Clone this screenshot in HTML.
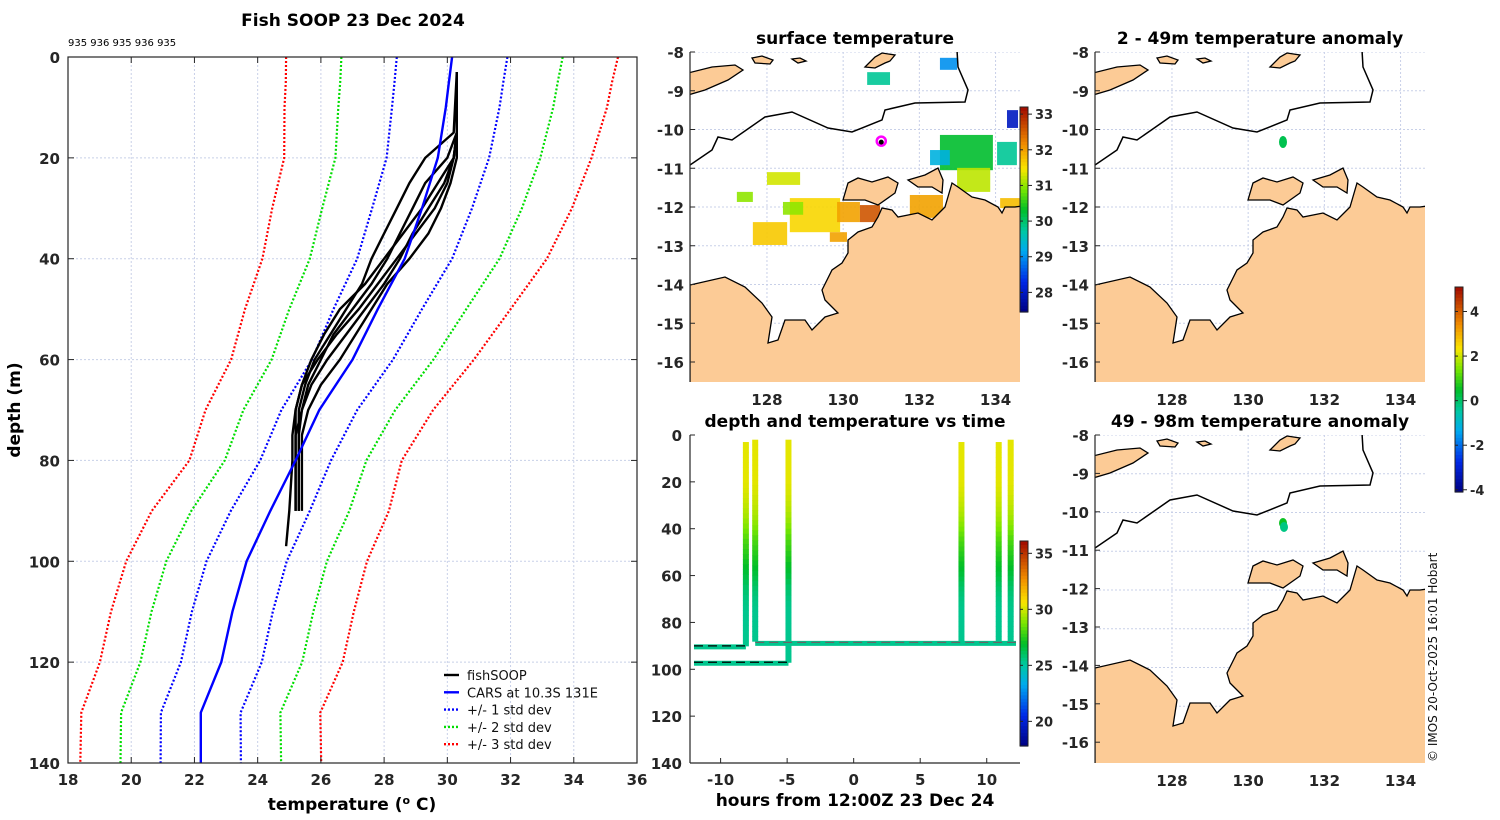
<!DOCTYPE html>
<html><head><meta charset="utf-8">
<style>
html,body{margin:0;padding:0;background:#fff;}
svg{display:block;}
text{font-family:"DejaVu Sans","Liberation Sans",sans-serif;fill:#262626;}
.tk{font-size:15px;font-weight:bold;}
.ttl{font-size:17px;font-weight:bold;fill:#000;}
</style></head>
<body>
<svg id="fig" width="1500" height="820" viewBox="0 0 1500 820" xmlns="http://www.w3.org/2000/svg">
<defs>
<clipPath id="cpP"><rect x="68" y="57" width="569" height="706"/></clipPath>
<clipPath id="cpM1"><rect x="690" y="52" width="330" height="330"/></clipPath>
<clipPath id="cpM2"><rect x="1095" y="52" width="330" height="330"/></clipPath>
<clipPath id="cpM3"><rect x="1095" y="435" width="330" height="328"/></clipPath>
<clipPath id="cpT"><rect x="690" y="435" width="330" height="328"/></clipPath>
</defs>
<g id="root"></g>
</svg>
<script>
// ---------- profile data ----------
const carsDepth=[0,5,10,20,30,40,50,60,70,80,90,100,110,120,130,140];
const carsMean=[30.15,30.05,29.95,29.7,29.2,28.65,27.8,27.0,25.95,25.2,24.4,23.65,23.2,22.85,22.2,22.2];
const carsStd=[1.75,1.72,1.7,1.62,1.58,1.5,1.4,1.28,1.2,1.12,1.25,1.27,1.28,1.28,1.26,1.27];
const fsDepth=[3,15,20,25,30,35,40,45,50,55,60,65,70,75,80,90];
const fs1=[30.3,30.3,30.0,29.3,28.9,28.5,28.1,27.6,27.0,26.4,26.0,25.6,25.4,25.3,25.3,25.3];
const fs2=[30.3,30.3,30.3,30.1,29.8,29.4,28.8,28.1,27.6,27.1,26.6,26.0,25.6,25.4,25.4,25.4];
const fs3=[30.3,30.2,29.3,28.8,28.4,28.0,27.6,27.3,26.8,26.3,25.8,25.5,25.3,25.3,25.3,25.3];
const fs4=[30.3,30.3,30.2,29.9,29.4,28.9,28.5,28.0,27.4,26.8,26.2,25.7,25.4,25.2,25.2,25.2];
const fs5=[30.3,30.3,30.2,29.7,29.2,28.6,28.0,27.4,26.6,26.1,25.7,25.4,25.2,25.2,25.2,25.2];
const fs6Depth=[3,15,20,25,30,35,40,45,50,55,60,65,70,75,80,90,97];
const fs6=[30.3,30.3,30.2,30.0,29.6,29.0,28.4,27.8,27.2,26.5,25.9,25.4,25.2,25.1,25.1,25.0,24.9];
const tempTicks=[18,20,22,24,26,28,30,32,34,36];
const depthTicks=[0,20,40,60,80,100,120,140];
// ---------- SST patches ----------
const sstLon0=[127.63,128.6,129.84,130.44,129.65,128.42,128.0,127.21,131.75,132.54,132.99,134.04,134.3,130.63,132.54,134.12,132.28];
const sstLon1=[128.53,129.92,130.44,130.97,130.1,128.95,128.87,127.63,132.62,133.93,133.86,134.56,134.59,131.23,132.99,134.64,132.8];
const sstLat0=[-12.39,-11.77,-11.87,-11.95,-12.65,-11.87,-11.1,-11.61,-11.69,-10.14,-10.99,-10.32,-9.5,-8.52,-8.15,-11.77,-10.53];
const sstLat1=[-12.98,-12.65,-12.39,-12.39,-12.9,-12.2,-11.43,-11.87,-12.28,-11.05,-11.61,-10.92,-9.96,-8.85,-8.46,-12.03,-10.92];
const sstVal=[31.7,31.6,32.0,32.6,32.0,31.0,31.3,31.0,32.0,30.3,31.2,29.8,28.0,29.8,29.0,31.8,29.3];
const sstTicks=[28,29,30,31,32,33];
const anomTicks=[-4,-2,0,2,4];
const lonTicks=[128,130,132,134];
const latTicks=[-8,-9,-10,-11,-12,-13,-14,-15,-16];
// ---------- time series ----------
const castTime=[-8.1,-7.4,-4.9,8.1,10.9,11.8];
const castTop=[3,2,2,3,3,2];
const castBottom=[90,88,97,88,88,88];
const towStart=[-12.0,-12.0,-7.4];
const towEnd=[-8.1,-4.9,12.2];
const towDepth=[90,97,88.5];
const hourTicks=[-10,-5,0,5,10];
const tdDepthTicks=[0,20,40,60,80,100,120,140];
const tsTicks=[20,25,30,35];

const NS="http://www.w3.org/2000/svg";
const root=document.getElementById('root');
function E(tag,attrs,parent,txt){const e=document.createElementNS(NS,tag);for(const k in attrs)e.setAttribute(k,attrs[k]);if(txt!==undefined)e.textContent=txt;(parent||root).appendChild(e);return e;}

const cstops=[[0,[0,0,128]],[0.15,[0,40,230]],[0.3,[0,170,240]],[0.4,[0,200,160]],[0.5,[0,190,40]],[0.6,[120,230,0]],[0.7,[250,230,0]],[0.82,[240,140,0]],[1,[160,10,0]]];
function cmap(f){f=Math.max(0,Math.min(1,f));for(let i=1;i<cstops.length;i++){if(f<=cstops[i][0]){const a=cstops[i-1],b=cstops[i];const t=(f-a[0])/(b[0]-a[0]);const c=a[1].map((v,j)=>Math.round(v+(b[1][j]-v)*t));return `rgb(${c})`;}}return 'rgb(160,10,0)';}
function colorbar(x,y,w,h,vmin,vmax,ticks,name){
  const g=E('g',{});
  
  
  const n=60;
  for(let i=0;i<n;i++){E('rect',{x:x,y:y+h-(i+1)*h/n,width:w,height:h/n+0.6,fill:cmap((i+0.5)/n)},g);}
  E('rect',{x:x,y:y,width:w,height:h,fill:'none',stroke:'#222','stroke-width':1},g);
  ticks.forEach(t=>{const ty=y+h-(t-vmin)/(vmax-vmin)*h;E('line',{x1:x+w,x2:x+w+4,y1:ty,y2:ty,stroke:'#222'},g);E('line',{x1:x,x2:x+3,y1:ty,y2:ty,stroke:'#222'},g);const tx=E('text',{x:x+w+7,y:ty+5,class:'tk'},g,String(t));tx.setAttribute('style','font-size:13px');});
}

// ================= PROFILE PLOT =================
const PX0=68,PX1=637,PY0=57,PY1=763;
const tx=t=>PX0+(t-18)/(36-18)*(PX1-PX0);
const dy=d=>PY0+d/140*(PY1-PY0);
E('text',{x:353,y:26,class:'ttl','text-anchor':'middle',},root,'Fish SOOP 23 Dec 2024');
const ids=E('text',{x:68,y:46,},root,'935 936 935 936 935');ids.setAttribute('style','font-size:10px;fill:#000');
const pg=E('g',{});
tempTicks.forEach(t=>{if(t>18&&t<36){E('line',{x1:tx(t),x2:tx(t),y1:PY0,y2:PY1,stroke:'#c8d0e8','stroke-width':1,'stroke-dasharray':'2,2'},pg);}});
depthTicks.forEach(d=>{if(d>0&&d<140)E('line',{x1:PX0,x2:PX1,y1:dy(d),y2:dy(d),stroke:'#c8d0e8','stroke-width':1,'stroke-dasharray':'2,2'},pg);});
function pline(ts,ds,attrs,name){const pts=ts.map((t,i)=>tx(t).toFixed(1)+','+dy(ds[i]).toFixed(1)).join(' ');const p=E('polyline',Object.assign({points:pts,fill:'none','clip-path':'url(#cpP)'},attrs),pg);return p;}
const stdCols=['#0000ff','#00dd00','#ff0000'];
[3,2,1].forEach(k=>{
  pline(carsMean.map((m,i)=>m-k*carsStd[i]),carsDepth,{stroke:stdCols[k-1],'stroke-width':2.2,'stroke-dasharray':'2,2'},'std-'+k+'-left');
  pline(carsMean.map((m,i)=>m+k*carsStd[i]),carsDepth,{stroke:stdCols[k-1],'stroke-width':2.2,'stroke-dasharray':'2,2'},'std-'+k+'-right');
});
[fs1,fs2,fs3,fs4,fs5].forEach((s,i)=>pline(s,fsDepth,{stroke:'#000','stroke-width':2.4},'fishsoop-profile-'+(i+1)));
pline(fs6,fs6Depth,{stroke:'#000','stroke-width':2.4},'fishsoop-profile-6');
pline(carsMean,carsDepth,{stroke:'#0000ff','stroke-width':2.4},'cars-mean');
E('rect',{x:PX0,y:PY0,width:PX1-PX0,height:PY1-PY0,fill:'none',stroke:'#262626','stroke-width':1.2},pg);
tempTicks.forEach(t=>{E('line',{x1:tx(t),x2:tx(t),y1:PY1,y2:PY1-6,stroke:'#262626'},pg);E('line',{x1:tx(t),x2:tx(t),y1:PY0,y2:PY0+6,stroke:'#262626'},pg);E('text',{x:tx(t),y:PY1+22,class:'tk','text-anchor':'middle'},pg,String(t));});
depthTicks.forEach(d=>{E('line',{x1:PX0,x2:PX0+6,y1:dy(d),y2:dy(d),stroke:'#262626'},pg);E('line',{x1:PX1,x2:PX1-6,y1:dy(d),y2:dy(d),stroke:'#262626'},pg);E('text',{x:PX0-8,y:dy(d)+6,class:'tk','text-anchor':'end'},pg,String(d));});
const xl=E('text',{x:352,y:810,class:'ttl','text-anchor':'middle',},root);
xl.innerHTML='temperature (<tspan dy="-6" font-size="11">o</tspan><tspan dy="6"> C)</tspan>';
E('text',{x:20,y:410,class:'ttl','text-anchor':'middle',transform:'rotate(-90 20 410)',},root,'depth (m)');
const lg=E('g',{});
const legT=['fishSOOP','CARS at 10.3S 131E','+/- 1 std dev','+/- 2 std dev','+/- 3 std dev'];
const legC=['#000','#0000ff','#0000ff','#00dd00','#ff0000'];
legT.forEach((t,i)=>{const y=675+i*17.3;const e=E('g',{},lg);
 E('line',Object.assign({x1:444,x2:459,y1:y,y2:y,stroke:legC[i],'stroke-width':2.4},i>1?{'stroke-dasharray':'2,2'}:{}),e);
 const tt=E('text',{x:467,y:y+5},e,t);tt.setAttribute('style','font-size:13px;fill:#111');});

// ================= MAPS =================
const land=[[0,233],[35,225],[55,235],[72,251],[82,265],[78,291],[88,288],[95,268],[115,268],[122,278],[135,265],[148,261],[135,248],[132,238],[142,218],[152,211],[158,201],[158,188],[168,180],[182,175],[188,165],[192,156],[202,158],[208,165],[228,161],[242,168],[250,160],[255,155],[262,131],[268,135],[282,145],[295,148],[308,155],[312,161],[315,155],[325,155],[332,154],[332,332],[0,332]];
const isl1=[[153,148],[158,131],[168,126],[182,130],[198,125],[208,131],[205,141],[188,153],[175,148]];
const isl2=[[218,128],[235,123],[248,116],[253,128],[252,141],[242,135],[228,135]];
const timor=[[-2,21],[22,15],[45,13],[53,18],[38,28],[15,38],[-2,43]];
const isl3=[[62,6],[72,4],[83,8],[80,12],[65,11]];
const isl4=[[102,7],[110,6],[116,9],[108,11]];
const isl5=[[175,15],[185,5],[192,1],[205,3],[200,9],[195,11],[185,16]];
const iso=[[0,113],[22,98],[28,85],[42,88],[75,65],[102,60],[138,76],[162,80],[192,68],[195,58],[225,51],[275,50],[278,38],[268,15],[267,-2]];
function pstr(a,ox,oy){return a.map(p=>(p[0]+ox)+','+(p[1]+oy)).join(' ');}
function drawMap(ox,oy,clip,name){
  const g=E('g',{'clip-path':'url(#'+clip+')'});
  
  
  lonTicks.forEach(l=>{const x=ox+(l-125.98)*38.1;E('line',{x1:x,x2:x,y1:oy,y2:oy+330,stroke:'#c8d0e8','stroke-dasharray':'2,2'},g);});
  latTicks.forEach(l=>{const y=oy+(-8-l)*38.75;E('line',{x1:ox,x2:ox+330,y1:y,y2:y,stroke:'#c8d0e8','stroke-dasharray':'2,2'},g);});
  return g;
}
function drawLand(g,ox,oy){
  [land,isl1,isl2,timor,isl3,isl4,isl5].forEach(a=>{const p=E('polygon',{points:pstr(a,ox,oy),fill:'#fccb96',stroke:'#000','stroke-width':1.3},g);});
  E('polyline',{points:pstr(iso,ox,oy),fill:'none',stroke:'#000','stroke-width':1.5},g);
}
function mapAxes(ox,oy,h,showLon){
  const g=E('g',{});
  E('line',{x1:ox,x2:ox,y1:oy,y2:oy+h,stroke:'#262626','stroke-width':1.2},g);
  latTicks.forEach(l=>{const y=oy+(-8-l)*38.75*(h/330);E('line',{x1:ox,x2:ox+5,y1:y,y2:y,stroke:'#262626'},g);E('text',{x:ox-6,y:y+6,class:'tk','text-anchor':'end'},g,String(l));});
  if(showLon){lonTicks.forEach(l=>{const x=ox+(l-125.98)*38.1;E('text',{x:x,y:oy+h+23,class:'tk','text-anchor':'middle'},g,String(l));});}
}
const m1=drawMap(690,52,'cpM1','surface-temperature-map');
const sx=l=>690+(l-125.98)*38.1, sy=l=>52+(-8-l)*38.75;
sstVal.forEach((v,i)=>{const r=E('rect',{x:sx(sstLon0[i]),y:sy(sstLat0[i]),width:sx(sstLon1[i])-sx(sstLon0[i]),height:sy(sstLat1[i])-sy(sstLat0[i]),fill:cmap((v-27.45)/(33.2-27.45)),opacity:0.9},m1);});
drawLand(m1,690,52);
E('circle',{cx:sx(131),cy:sy(-10.3),r:4.5,fill:'none',stroke:'#ff00ff','stroke-width':2.5,},m1);
E('circle',{cx:sx(131),cy:sy(-10.3)+1,r:2.5,fill:'#000'},m1);
mapAxes(690,52,330,true);
E('text',{x:855,y:44,class:'ttl','text-anchor':'middle',},root,'surface temperature');
colorbar(1020,107,8,205,27.45,33.2,sstTicks,'sst-colorbar');
const m2=drawMap(1095,52,'cpM2','anomaly-2-49m-map');
drawLand(m2,1095,52);
E('ellipse',{cx:1283,cy:142,rx:4,ry:6,fill:cmap((0.2+4.1)/9.2),},m2);
mapAxes(1095,52,330,true);
E('text',{x:1260,y:44,class:'ttl','text-anchor':'middle',},root,'2 - 49m temperature anomaly');
const m3=drawMap(1095,435,'cpM3','anomaly-49-98m-map');
drawLand(m3,1095,435);
E('ellipse',{cx:1283,cy:523,rx:4,ry:5,fill:cmap((0.6+4.1)/9.2)},m3);
E('ellipse',{cx:1284,cy:527,rx:4,ry:5,fill:cmap((-0.2+4.1)/9.2),},m3);
E('line',{x1:1095,x2:1095,y1:435,y2:763,stroke:'#262626','stroke-width':1.2});
latTicks.forEach(l=>{const y=435+(-8-l)*38.4;E('line',{x1:1095,x2:1100,y1:y,y2:y,stroke:'#262626'});E('text',{x:1089,y:y+6,class:'tk','text-anchor':'end'},root,String(l));});
lonTicks.forEach(l=>{const x=1095+(l-125.98)*38.1;E('text',{x:x,y:786,class:'tk','text-anchor':'middle'},root,String(l));});
E('text',{x:1260,y:427,class:'ttl','text-anchor':'middle',},root,'49 - 98m temperature anomaly');
colorbar(1455,287,8,205,-4.1,5.1,anomTicks,'anomaly-colorbar');
const cp=E('text',{x:1437,y:762,transform:'rotate(-90 1437 762)',},root,'© IMOS 20-Oct-2025 16:01 Hobart');cp.setAttribute('style','font-size:12px;fill:#111');

// ================= TIME-DEPTH PLOT =================
const TX0=690,TX1=1020,TY0=435,TY1=763;
const hx=h=>TX0+(h+12.3)/(24.8)*(TX1-TX0);
const ty=d=>TY0+d/140*(TY1-TY0);
const tg=E('g',{'clip-path':'url(#cpT)'});


function tempAt(d){for(let i=1;i<fsDepth.length;i++){if(d<=fsDepth[i]){const t=(d-fsDepth[i-1])/(fsDepth[i]-fsDepth[i-1]);return fs2[i-1]+(fs2[i]-fs2[i-1])*Math.max(0,t);}}return fs2[fs2.length-1];}
const tc=t=>cmap((t-17.8)/(36.1-17.8));
towDepth.forEach((d,i)=>{const l=E('line',{x1:hx(towStart[i]),x2:hx(towEnd[i]),y1:ty(d)+1,y2:ty(d)+1,stroke:tc(tempAt(d)),'stroke-width':5},tg);});
castTime.forEach((h,i)=>{const n=40;for(let k=0;k<n;k++){const d0=castTop[i]+(castBottom[i]-castTop[i])*k/n,d1=castTop[i]+(castBottom[i]-castTop[i])*(k+1)/n;E('line',{x1:hx(h),x2:hx(h),y1:ty(d0),y2:ty(d1)+0.5,stroke:tc(tempAt((d0+d1)/2)),'stroke-width':6},tg);}
 const m=E('line',{x1:hx(h),x2:hx(h),y1:ty(castTop[i]),y2:ty(castTop[i]),stroke:'none'},tg);});
towDepth.forEach((d,i)=>{E('line',{x1:hx(towStart[i]),x2:hx(towEnd[i]),y1:ty(d),y2:ty(d),stroke:i==2?'#666':'#000','stroke-width':1.2,'stroke-dasharray':'9,5'},tg);});
E('line',{x1:TX0,x2:TX0,y1:TY0,y2:TY1,stroke:'#262626','stroke-width':1.2});
E('line',{x1:TX0,x2:TX1,y1:TY1,y2:TY1,stroke:'#262626','stroke-width':1.2});
tdDepthTicks.forEach(d=>{E('line',{x1:TX0,x2:TX0+5,y1:ty(d),y2:ty(d),stroke:'#262626'});E('text',{x:TX0-8,y:ty(d)+6,class:'tk','text-anchor':'end'},root,String(d));});
hourTicks.forEach(h=>{E('line',{x1:hx(h),x2:hx(h),y1:TY1,y2:TY1-5,stroke:'#262626'});E('text',{x:hx(h),y:TY1+22,class:'tk','text-anchor':'middle'},root,String(h));});
E('text',{x:855,y:806,class:'ttl','text-anchor':'middle',},root,'hours from 12:00Z 23 Dec 24');
E('text',{x:855,y:427,class:'ttl','text-anchor':'middle',},root,'depth and temperature vs time');
colorbar(1020,541,8,205,17.8,36.1,tsTicks,'time-temp-colorbar');
</script>
</body></html>
